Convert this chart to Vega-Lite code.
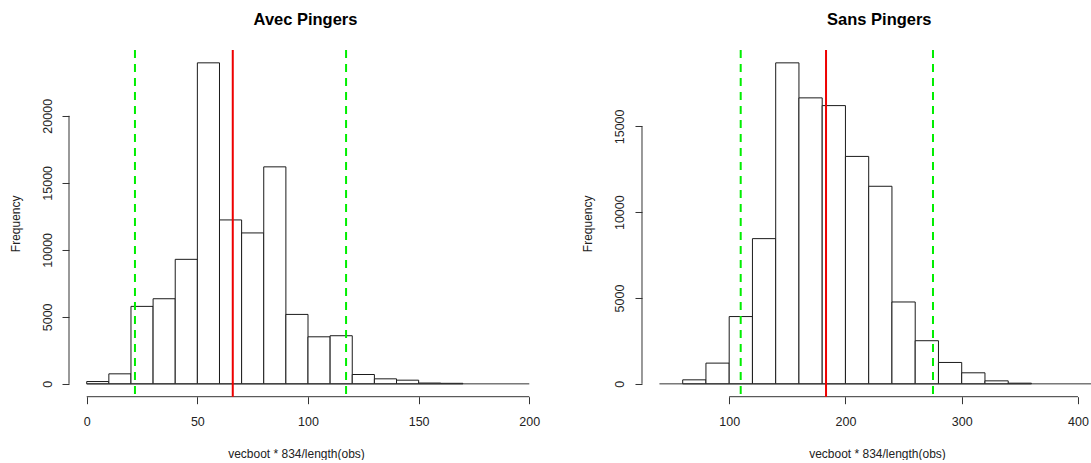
{
  "$schema": "https://vega.github.io/schema/vega-lite/v6.json",
  "padding": {"left": 9, "top": 11, "right": 0, "bottom": 0},
  "background": "white",
  "datasets": {
    "avec": [
      {"start": 0, "end": 10, "count": 172},
      {"start": 10, "end": 20, "count": 747},
      {"start": 20, "end": 30, "count": 5780},
      {"start": 30, "end": 40, "count": 6350},
      {"start": 40, "end": 50, "count": 9290},
      {"start": 50, "end": 60, "count": 23950},
      {"start": 60, "end": 70, "count": 12230},
      {"start": 70, "end": 80, "count": 11260},
      {"start": 80, "end": 90, "count": 16190},
      {"start": 90, "end": 100, "count": 5180},
      {"start": 100, "end": 110, "count": 3510},
      {"start": 110, "end": 120, "count": 3590},
      {"start": 120, "end": 130, "count": 697},
      {"start": 130, "end": 140, "count": 374},
      {"start": 140, "end": 150, "count": 274},
      {"start": 150, "end": 160, "count": 60},
      {"start": 160, "end": 170, "count": 40}
    ],
    "sans": [
      {"start": 60, "end": 80, "count": 234},
      {"start": 80, "end": 100, "count": 1208},
      {"start": 100, "end": 120, "count": 3920},
      {"start": 120, "end": 140, "count": 8460},
      {"start": 140, "end": 160, "count": 18700},
      {"start": 160, "end": 180, "count": 16660},
      {"start": 180, "end": 200, "count": 16210},
      {"start": 200, "end": 220, "count": 13250},
      {"start": 220, "end": 240, "count": 11510},
      {"start": 240, "end": 260, "count": 4770},
      {"start": 260, "end": 280, "count": 2513},
      {"start": 280, "end": 300, "count": 1246},
      {"start": 300, "end": 320, "count": 643},
      {"start": 320, "end": 340, "count": 175},
      {"start": 340, "end": 360, "count": 39}
    ],
    "avec_lines": [
      {"kind": "ci", "value": 21.8},
      {"kind": "ci", "value": 117.2},
      {"kind": "mean", "value": 66.0}
    ],
    "sans_lines": [
      {"kind": "ci", "value": 109.9},
      {"kind": "ci", "value": 275.3},
      {"kind": "mean", "value": 183.3}
    ]
  },
  "hconcat": [
    {
      "title": {"text": "Avec Pingers", "dx": -2.5},
      "width": 478,
      "height": 346.7,
      "layer": [
        {
          "data": {"name": "avec"},
          "mark": {"type": "rect", "fill": "white", "stroke": "#1a1a1a", "strokeWidth": 1},
          "encoding": {
            "x": {"field": "start", "type": "quantitative",
                  "scale": {"domain": [-8, 208], "nice": false, "zero": false},
                  "axis": {"values": [0, 50, 100, 150, 200], "format": "d", "title": "vecboot * 834/length(obs)", "titleX": 227}},
            "x2": {"field": "end"},
            "y": {"field": "count", "type": "quantitative",
                  "scale": {"domain": [-958, 24908], "nice": false, "zero": false},
                  "axis": {"values": [0, 5000, 10000, 15000, 20000], "format": "d", "title": "Frequency"}},
            "y2": {"datum": 0}
          }
        },
        {
          "data": {"values": [{}]},
          "mark": {"type": "rule", "color": "#333", "strokeWidth": 1, "clip": true},
          "encoding": {"x": {"datum": 0}, "x2": {"datum": 200}, "y": {"datum": 0}}
        },
        {
          "data": {"values": [{}]},
          "mark": {"type": "rule", "color": "#333", "strokeWidth": 1},
          "encoding": {"x": {"datum": 0}, "x2": {"datum": 200}, "y": {"datum": -958}}
        },
        {
          "data": {"values": [{}]},
          "mark": {"type": "rule", "color": "#333", "strokeWidth": 1},
          "encoding": {"x": {"datum": -8}, "y": {"datum": 0}, "y2": {"datum": 20000}}
        },
        {
          "data": {"name": "avec_lines"},
          "mark": {"type": "rule", "strokeWidth": 2},
          "encoding": {
            "x": {"field": "value", "type": "quantitative"},
            "color": {"field": "kind", "type": "nominal", "scale": {"domain": ["mean", "ci"], "range": ["#ee0000", "#00ee00"]}, "legend": null},
            "strokeDash": {"field": "kind", "type": "nominal", "scale": {"domain": ["mean", "ci"], "range": [[1, 0], [8, 6]]}, "legend": null}
          }
        }
      ]
    },
    {
      "title": {"text": "Sans Pingers", "dx": 12.8},
      "width": 449,
      "height": 346.7,
      "layer": [
        {
          "data": {"name": "sans"},
          "mark": {"type": "rect", "fill": "white", "stroke": "#1a1a1a", "strokeWidth": 1},
          "encoding": {
            "x": {"field": "start", "type": "quantitative",
                  "scale": {"domain": [25, 411.2], "nice": false, "zero": false},
                  "axis": {"values": [100, 200, 300, 400], "format": "d", "title": "vecboot * 834/length(obs)", "titleX": 235}},
            "x2": {"field": "end"},
            "y": {"field": "count", "type": "quantitative",
                  "scale": {"domain": [-748, 19449], "nice": false, "zero": false},
                  "axis": {"values": [0, 5000, 10000, 15000], "format": "d", "title": "Frequency"}},
            "y2": {"datum": 0}
          }
        },
        {
          "data": {"values": [{}]},
          "mark": {"type": "rule", "color": "#333", "strokeWidth": 1, "clip": true},
          "encoding": {"x": {"datum": 40}, "x2": {"datum": 440}, "y": {"datum": 0}}
        },
        {
          "data": {"values": [{}]},
          "mark": {"type": "rule", "color": "#333", "strokeWidth": 1},
          "encoding": {"x": {"datum": 100}, "x2": {"datum": 400}, "y": {"datum": -748}}
        },
        {
          "data": {"values": [{}]},
          "mark": {"type": "rule", "color": "#333", "strokeWidth": 1},
          "encoding": {"x": {"datum": 25}, "y": {"datum": 0}, "y2": {"datum": 15000}}
        },
        {
          "data": {"name": "sans_lines"},
          "mark": {"type": "rule", "strokeWidth": 2},
          "encoding": {
            "x": {"field": "value", "type": "quantitative"},
            "color": {"field": "kind", "type": "nominal", "scale": {"domain": ["mean", "ci"], "range": ["#ee0000", "#00ee00"]}, "legend": null},
            "strokeDash": {"field": "kind", "type": "nominal", "scale": {"domain": ["mean", "ci"], "range": [[1, 0], [8, 6]]}, "legend": null}
          }
        }
      ]
    }
  ],
  "spacing": 95,
  "bounds": "flush",
  "config": {
    "view": {"stroke": null},
    "font": "Liberation Sans",
    "title": {"font": "Liberation Sans", "fontSize": 16.5, "fontWeight": "bold", "color": "#000", "anchor": "middle", "baseline": "middle", "offset": 20.7},
    "axis": {
      "domain": false,
      "grid": false,
      "ticks": true,
      "tickSize": 7,
      "tickColor": "#333",
      "tickWidth": 1,
      "labelFont": "Liberation Sans",
      "labelFontSize": 12.5,
      "labelColor": "#222",
      "labelOverlap": false,
      "labelFlush": false,
      "titleFont": "Liberation Sans",
      "titleFontSize": 12,
      "titleFontWeight": "normal",
      "titleColor": "#222"
    },
    "axisX": {"labelBaseline": "middle", "labelPadding": 18.3, "titleY": 56.6, "titleBaseline": "middle", "titleAlign": "center"},
    "axisY": {"labelAngle": -90, "labelAlign": "center", "labelBaseline": "middle", "labelPadding": 15, "titleX": -54, "titleBaseline": "middle", "titleAlign": "center", "titleAngle": -90}
  }
}
